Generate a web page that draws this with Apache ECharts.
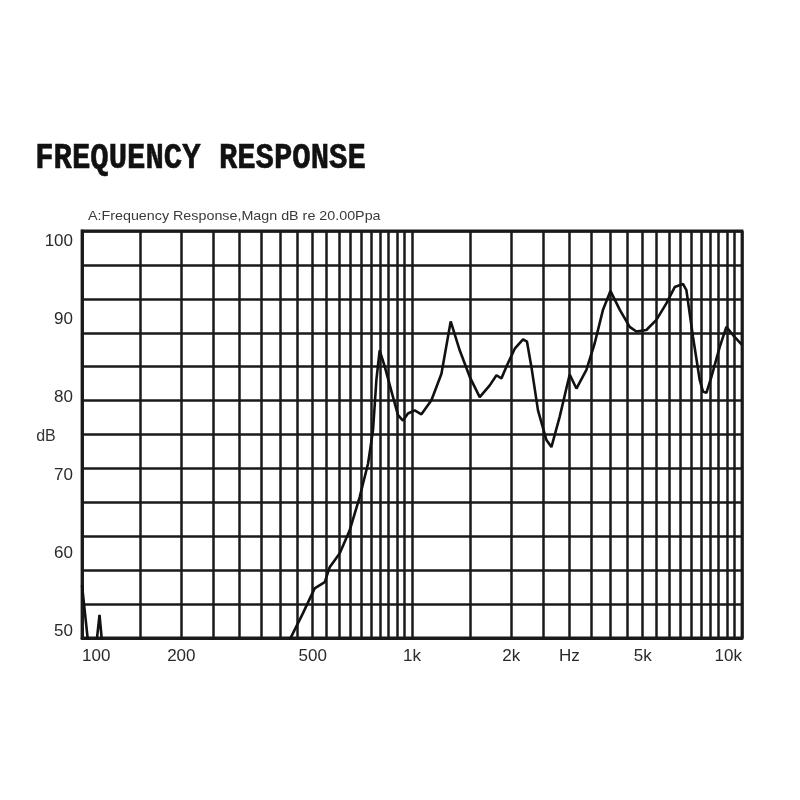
<!DOCTYPE html>
<html>
<head>
<meta charset="utf-8">
<script src="https://cdn.jsdelivr.net/npm/echarts@6/dist/echarts.min.js"></script>
<style>html,body{margin:0;padding:0;background:#fff}#c{width:800px;height:800px}</style>
</head>
<body>
<div id="c"></div>
<script>
// Frequency (Hz) and level (dB)
const freqHz = [100, 105, 109, 113, 116.5, 411, 467, 507, 544, 563, 604, 647, 694, 736, 762, 780, 798, 827, 876, 907, 939, 972, 1019, 1068, 1145, 1228, 1310, 1395, 1496, 1604, 1720, 1803, 1866, 1932, 2048, 2170, 2231, 2300, 2409, 2555, 2645, 2803, 3005, 3149, 3377, 3578, 3792, 3993, 4260, 4567, 4786, 5131, 5503, 5900, 6253, 6625, 6784, 7105, 7445, 7618, 7801, 8079, 8558, 8967, 9391, 10000];
const levelDb = [55.9, 47.5, 46, 52.1, 46, 47.6, 52.3, 55.5, 56.3, 58.2, 60.0, 62.9, 67.2, 71.5, 75.8, 82.2, 86.0, 83.9, 80.0, 77.7, 77.0, 77.9, 78.3, 77.8, 79.6, 83.0, 89.7, 86.0, 82.6, 80.0, 81.5, 82.8, 82.4, 83.9, 86.2, 87.4, 87.1, 83.9, 78.3, 74.5, 73.6, 77.5, 82.9, 81.1, 83.5, 86.9, 91.2, 93.6, 91.2, 89.0, 88.4, 88.6, 89.9, 92.0, 94.1, 94.5, 93.7, 87.7, 82.2, 80.7, 80.55, 82.6, 86.4, 89.0, 87.95, 86.7];

// Axis labels
const xLabelValues = [100, 200, 500, 1000, 2000, 3000, 5000, 10000];
const xLabelTexts = ['100', '200', '500', '1k', '2k', 'Hz', '5k', '10k'];
const yLabelValues = [50, 60, 70, 80, 90, 100];
// Vertical grid lines (Hz)
const xGridLines = [100, 150, 200, 250, 300, 350, 400, 450, 500, 550, 600, 650, 700, 750, 800, 850, 900, 950,
  1000, 1500, 2000, 2500, 3000, 3500, 4000, 4500, 5000, 5500, 6000, 6500, 7000, 7500, 8000, 8500, 9000, 9500, 10000];
// Horizontal grid divisions
const yGridDivisions = 12;
const yRange = [49.14, 101.28];

const titleText = 'FREQUENCY RESPONSE';
const subtitleText = 'A:Frequency Response,Magn dB re 20.00Ppa';
const yName = 'dB';

const chart = echarts.init(document.getElementById('c'), null, {renderer: 'canvas'});
const data = freqHz.map((f, i) => [f, levelDb[i]]);
const labelMap = {};
xLabelValues.forEach((v, i) => { labelMap[v] = xLabelTexts[i]; });

const gridColor = '#1a1a1a';
chart.setOption({
  animation: false,
  backgroundColor: '#ffffff',
  grid: {left: 82, top: 231, width: 660, height: 407, show: true, borderColor: gridColor, borderWidth: 2.8, backgroundColor: 'transparent'},
  graphic: [
    {type: 'text', left: 35, top: 141, scaleX: 0.85, style: {text: titleText, font: 'bold 36px "Liberation Mono"', fill: '#111', stroke: '#111', lineWidth: 0.6}},
    {type: 'text', left: 88, top: 210, scaleX: 1.1, style: {text: subtitleText, font: '13px "Liberation Sans"', fill: '#3a3a3a'}},
    {type: 'text', x: 46, y: 437, style: {text: yName, font: '16px "Liberation Sans"', fill: '#333', align: 'center', verticalAlign: 'middle'}}
  ],
  xAxis: {
    type: 'log', logBase: 10, min: 100, max: 10000,
    axisLine: {show: true, onZero: false, lineStyle: {color: gridColor, width: 2.8}},
    axisTick: {show: false, customValues: xGridLines},
    splitLine: {show: true, lineStyle: {color: gridColor, width: 2.5}},
    minorSplitLine: {show: false},
    axisLabel: {
      customValues: xLabelValues,
      formatter: v => labelMap[Math.round(v)] || '',
      margin: 10, fontSize: 17, color: '#2a2a2a', fontFamily: 'Liberation Sans',
      alignMinLabel: 'left', alignMaxLabel: 'right', showMinLabel: true, showMaxLabel: true
    }
  },
  yAxis: [
    {
      type: 'value', min: yRange[0], max: yRange[1],
      axisLine: {show: true, lineStyle: {color: gridColor, width: 2.8}},
      axisTick: {show: false},
      splitLine: {show: false},
      axisLabel: {customValues: yLabelValues, margin: 9, fontSize: 17, color: '#2a2a2a', fontFamily: 'Liberation Sans'}
    },
    {
      type: 'value', min: 0, max: yGridDivisions, interval: 1, position: 'left',
      axisLine: {show: false}, axisTick: {show: false}, axisLabel: {show: false},
      splitLine: {show: true, lineStyle: {color: gridColor, width: 2.5}}
    }
  ],
  series: [{
    type: 'line', data: data, xAxisIndex: 0, yAxisIndex: 0,
    showSymbol: false, symbol: 'none', clip: true, z: 5,
    lineStyle: {color: '#111', width: 2.6}
  }]
});
</script>
</body>
</html>
